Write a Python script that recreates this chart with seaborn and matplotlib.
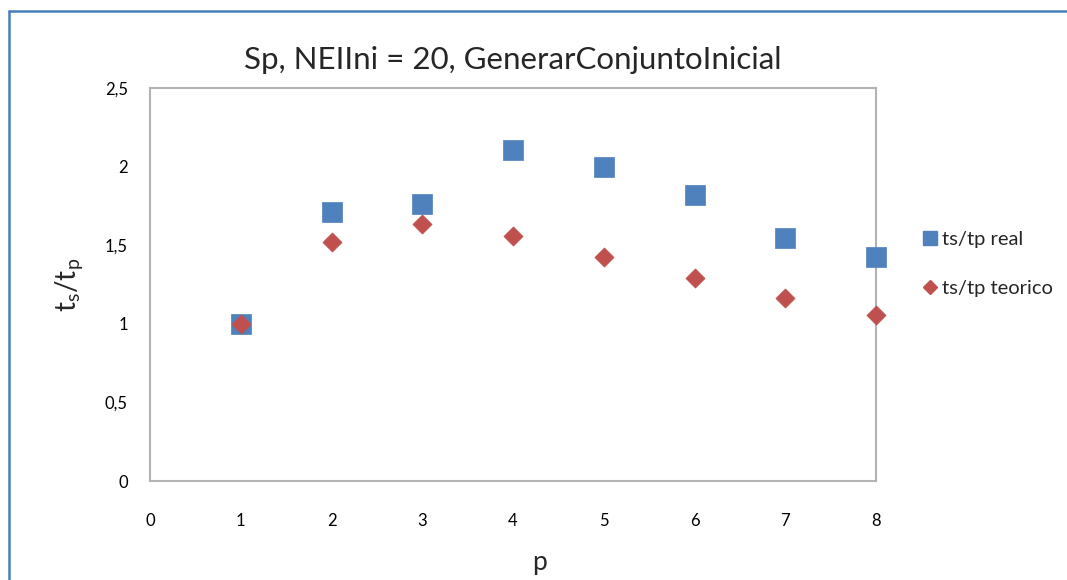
import matplotlib
matplotlib.use("Agg")
import matplotlib.pyplot as plt
from matplotlib.lines import Line2D
import seaborn as sns
import pandas as pd

# ---- data ----
p_values = [1, 2, 3, 4, 5, 6, 7, 8]
real_values = [1.0, 1.71, 1.764, 2.104, 2.0, 1.818, 1.546, 1.426]
teorico_values = [1.0, 1.523, 1.635, 1.559, 1.428, 1.289, 1.163, 1.056]
series_names = ["ts/tp real", "ts/tp teorico"]
title_text = "Sp, NEIIni = 20, GenerarConjuntoInicial"
y_ticks = [0, 0.5, 1, 1.5, 2, 2.5]
y_tick_labels = ["0", "0,5", "1", "1,5", "2", "2,5"]
x_ticks = [0, 1, 2, 3, 4, 5, 6, 7, 8]

df = pd.DataFrame({
    "p": p_values * 2,
    "val": real_values + teorico_values,
    "serie": [series_names[0]] * len(p_values) + [series_names[1]] * len(p_values),
})

sns.set_theme(style="white")
plt.rcParams["font.family"] = ["Lato", "DejaVu Sans"]

fig = plt.figure(figsize=(10.67, 5.80), dpi=100)
ax = fig.add_axes([150 / 1067, 1 - 481 / 580, (876 - 150) / 1067, (481 - 88) / 580])

blue = "#4F81BD"
red = "#C0504D"

sns.scatterplot(data=df[df.serie == series_names[0]], x="p", y="val", ax=ax,
                marker="s", s=200, color=blue, edgecolor=blue, linewidth=0.5,
                legend=False, zorder=3, clip_on=False)
sns.scatterplot(data=df[df.serie == series_names[1]], x="p", y="val", ax=ax,
                marker="D", s=95, color=red, edgecolor=red, linewidth=0.5,
                legend=False, zorder=4, clip_on=False)

ax.set_xlim(0, 8)
ax.set_ylim(0, 2.5)
ax.set_xticks(x_ticks)
ax.set_xticklabels([str(v) for v in x_ticks], fontsize=12)
ax.set_yticks(y_ticks)
ax.set_yticklabels(y_tick_labels, fontsize=12)
ax.tick_params(axis="both", length=0, colors="#000000")
ax.tick_params(axis="y", pad=16)
ax.tick_params(axis="x", pad=23)

for sp in ax.spines.values():
    sp.set_color("#b3b3b3")
    sp.set_linewidth(1.5)
    sp.set_visible(True)
ax.grid(False)

ax.set_xlabel("p", fontsize=19, labelpad=8)
ax.xaxis.set_label_coords((540 - 150) / (876 - 150), -0.175)
ax.set_ylabel(r"$\mathregular{t_s/t_p}$", fontsize=20, labelpad=14)
ax.set_title(title_text, fontsize=22.5, pad=14)

handles = [
    Line2D([], [], linestyle="none", marker="s", markersize=10, color=blue, label=series_names[0]),
    Line2D([], [], linestyle="none", marker="D", markersize=7.5, color=red, label=series_names[1]),
]
fig.legend(handles=handles, loc="center left", bbox_to_anchor=(910 / 1067, 1 - 264 / 580),
           frameon=False, fontsize=14.5, handletextpad=0.0, labelspacing=1.55,
           handlelength=1.2, borderaxespad=0)

# outer chart border (left and top)
fig.add_artist(Line2D([9 / 1067, 9 / 1067], [0, 1 - 11 / 580], transform=fig.transFigure,
                      color="#4a7ebb", linewidth=1.8))
fig.add_artist(Line2D([9 / 1067, 1], [1 - 11 / 580, 1 - 11 / 580], transform=fig.transFigure,
                      color="#4a7ebb", linewidth=1.8))

fig.savefig("out.png", dpi=100, facecolor="white")
